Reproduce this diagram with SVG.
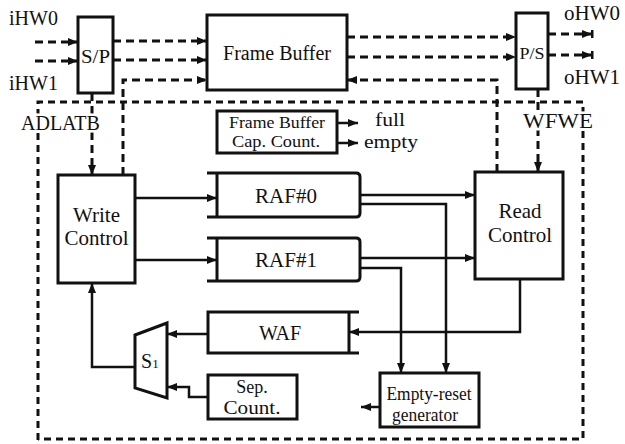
<svg xmlns="http://www.w3.org/2000/svg" width="625" height="444" viewBox="0 0 625 444">
<style>
text{font-family:"Liberation Serif","Times New Roman",serif;fill:#111;}
.halo{stroke:#fff;stroke-width:5;paint-order:stroke;stroke-linejoin:round;}
.box{fill:none;stroke:#111;stroke-width:3;}
.sl{fill:none;stroke:#111;stroke-width:2.5;}
.dl{fill:none;stroke:#111;stroke-width:3;stroke-dasharray:8 5;}
.bd{fill:none;stroke:#111;stroke-width:3;stroke-dasharray:7 5;}
.c{text-anchor:middle;}
</style>
<defs>
<marker id="ah" markerUnits="userSpaceOnUse" markerWidth="10" markerHeight="10" viewBox="0 0 10 10" refX="10" refY="5" orient="auto">
<path d="M0,1 L10,5 L0,9 Z" fill="#111"/>
</marker>
<marker id="ahb" markerUnits="userSpaceOnUse" markerWidth="12" markerHeight="10" viewBox="0 0 12 10" refX="10" refY="5" orient="auto">
<path d="M0,1 L10,5 L0,9 Z" fill="#111"/><rect x="9" y="1" width="2.5" height="8" fill="#111"/>
</marker>
</defs>
<rect width="625" height="444" fill="#fff"/>

<g id="connectors">
<path class="bd" d="M38,440 V102 H583 V439 H38"/>
<path class="dl" d="M35,42 H78" marker-end="url(#ah)"/>
<path class="dl" d="M35,61 H78" marker-end="url(#ah)"/>
<path class="dl" d="M113,41 H207" marker-end="url(#ah)"/>
<path class="dl" d="M113,60 H207" marker-end="url(#ah)"/>
<path class="dl" d="M123,175 V80 H207" marker-end="url(#ah)"/>
<path class="dl" d="M347,37 H516" marker-end="url(#ah)"/>
<path class="dl" d="M347,57 H516" marker-end="url(#ah)"/>
<path class="dl" d="M497,172 V80 H347" marker-end="url(#ah)"/>
<path class="dl" d="M548,34 H592" marker-end="url(#ahb)"/>
<path class="dl" d="M548,55 H592" marker-end="url(#ahb)"/>
<path class="dl" d="M92,93 V175" marker-end="url(#ah)"/>
<path class="dl" d="M538,89 V172" marker-end="url(#ah)"/>
<path class="sl" d="M337,123 H358" marker-end="url(#ah)"/>
<path class="sl" d="M337,143 H358" marker-end="url(#ah)"/>
<path class="sl" d="M135,198 H217" marker-end="url(#ah)"/>
<path class="sl" d="M135,260 H217" marker-end="url(#ah)"/>
<path class="sl" d="M360,195 H475" marker-end="url(#ah)"/>
<path class="sl" d="M360,258 H475" marker-end="url(#ah)"/>
<path class="sl" d="M360,204 H446 V373" marker-end="url(#ah)"/>
<path class="sl" d="M360,268 H401 V373" marker-end="url(#ah)"/>
<path class="sl" d="M520,279 V332 H349" marker-end="url(#ah)"/>
<path class="sl" d="M208,334 H167" marker-end="url(#ah)"/>
<path class="sl" d="M208,397 H189 V387 H167" marker-end="url(#ah)"/>
<path class="sl" d="M135,367 H92 V283" marker-end="url(#ah)"/>
<path class="sl" d="M380,407 H361" marker-end="url(#ah)"/>
</g>

<g id="labels">
<text x="9" y="25" font-size="20">iHW0</text>
<text x="9" y="90" font-size="20">iHW1</text>
<text class="halo" x="21" y="130" font-size="20">ADLATB</text>
<text x="564" y="20" font-size="21">oHW0</text>
<text x="564" y="84" font-size="21">oHW1</text>
<text class="halo" x="523" y="128" font-size="21" textLength="70" lengthAdjust="spacingAndGlyphs">WFWE</text>
<text x="375" y="126" font-size="19" textLength="30" lengthAdjust="spacingAndGlyphs">full</text>
<text x="364" y="148" font-size="19" textLength="54" lengthAdjust="spacingAndGlyphs">empty</text>
</g>

<g id="sp">
<rect class="box" x="78" y="17" width="35" height="76"/>
<text class="c" x="95.5" y="63" font-size="18" textLength="29" lengthAdjust="spacingAndGlyphs">S/P</text>
</g>

<g id="frame-buffer">
<rect class="box" x="207" y="15" width="140" height="75"/>
<text class="c" x="277" y="60" font-size="20">Frame Buffer</text>
</g>

<g id="ps">
<rect class="box" x="516" y="13" width="32" height="76"/>
<text class="c" x="532" y="59" font-size="16" textLength="25" lengthAdjust="spacingAndGlyphs">P/S</text>
</g>

<g id="fb-cap-count">
<rect class="box" x="217" y="111" width="120" height="42"/>
<text class="c" x="277" y="128" font-size="16" textLength="96" lengthAdjust="spacingAndGlyphs">Frame Buffer</text>
<text class="c" x="276" y="147" font-size="16" textLength="88" lengthAdjust="spacingAndGlyphs">Cap. Count.</text>
</g>

<g id="write-control">
<rect class="box" x="58" y="175" width="77" height="108"/>
<text class="c" x="96.5" y="222" font-size="21">Write</text>
<text class="c" x="96.5" y="245" font-size="21">Control</text>
</g>

<g id="raf0">
<path class="box" d="M207,173 H356 Q360,173 360,177 V213 Q360,217 356,217 H207 M217,173 V217"/>
<text class="c" x="286" y="203" font-size="21">RAF#0</text>
</g>

<g id="raf1">
<path class="box" d="M207,238 H356 Q360,238 360,242 V277 Q360,281 356,281 H207 M217,238 V281"/>
<text class="c" x="286" y="267" font-size="21">RAF#1</text>
</g>

<g id="read-control">
<rect class="box" x="475" y="172" width="88" height="107"/>
<text class="c" x="520" y="218" font-size="21">Read</text>
<text class="c" x="520" y="242" font-size="21">Control</text>
</g>

<g id="waf">
<path class="box" d="M359,312 H208 V353 H359 M349,312 V353"/>
<text class="c" x="280" y="340" font-size="20">WAF</text>
</g>

<g id="mux-s1">
<path class="box" d="M135,335 L167,323 V398 L135,388 Z"/>
<text x="141" y="368" font-size="20">S<tspan font-size="13">1</tspan></text>
</g>

<g id="sep-count">
<rect class="box" x="208" y="375" width="89" height="44"/>
<text class="c" x="252" y="393" font-size="18">Sep.</text>
<text class="c" x="252" y="414" font-size="18" textLength="57" lengthAdjust="spacingAndGlyphs">Count.</text>
</g>

<g id="empty-reset">
<rect class="box" x="380" y="373" width="99" height="54"/>
<text class="c" x="429" y="400" font-size="18" textLength="85" lengthAdjust="spacingAndGlyphs">Empty-reset</text>
<text class="c" x="425" y="421" font-size="18" textLength="66" lengthAdjust="spacingAndGlyphs">generator</text>
</g>
</svg>
